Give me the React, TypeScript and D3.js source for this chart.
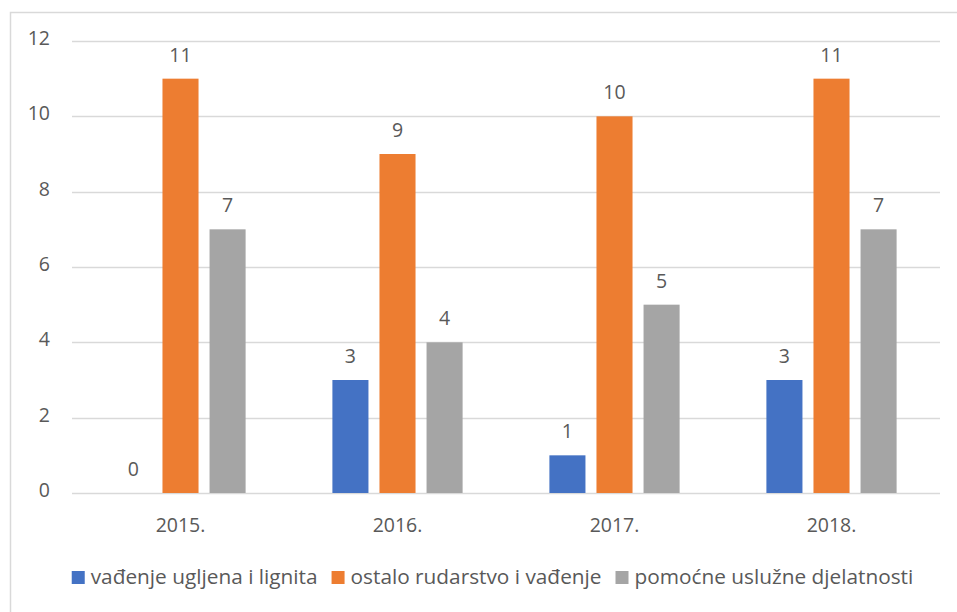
import React, { useEffect, useRef } from 'react';
import * as d3 from 'd3';

const years = ['2015.', '2016.', '2017.', '2018.'];
const seriesNames = ['vađenje ugljena i lignita', 'ostalo rudarstvo i vađenje', 'pomoćne uslužne djelatnosti'];
const coalValues = [0, 3, 1, 3];
const miningValues = [11, 9, 10, 11];
const supportValues = [7, 4, 5, 7];
const yTicks = [0, 2, 4, 6, 8, 10, 12];

const colors = ['#4472C4', '#ED7D31', '#A5A5A5'];
const textColor = '#595959';
const fontFamily = '"Open Sans", Lato, sans-serif';

const App: React.FC = () => {
  const svgRef = useRef<SVGSVGElement>(null);

  useEffect(() => {
    if (!svgRef.current) return;
    const width = 957;
    const height = 612;
    const margin = { top: 41, right: 17, bottom: 119, left: 72 };

    const svg = d3.select(svgRef.current);
    svg.selectAll('*').remove();

    const series = [coalValues, miningValues, supportValues];

    // chart area border (only top and left visible)
    svg.append('path')
      .attr('d', `M10.5,${height} V12.5 H${width}`)
      .attr('fill', 'none')
      .attr('stroke', '#D9D9D9')
      .attr('stroke-width', 1.5);

    const x0 = d3.scaleBand<string>()
      .domain(years)
      .range([margin.left, width - margin.right])
      .paddingInner(0.4)
      .paddingOuter(0.2);

    const x1 = d3.scaleBand<number>()
      .domain([0, 1, 2])
      .range([0, x0.bandwidth()])
      .paddingInner(0.234);

    const y = d3.scaleLinear()
      .domain([0, 12])
      .range([height - margin.bottom, margin.top]);

    // gridlines
    svg.append('g')
      .selectAll('line')
      .data(yTicks)
      .join('line')
      .attr('x1', margin.left)
      .attr('x2', width - margin.right)
      .attr('y1', d => Math.round(y(d)) + 0.5)
      .attr('y2', d => Math.round(y(d)) + 0.5)
      .attr('stroke', '#D9D9D9')
      .attr('stroke-width', 1.5);

    // y tick labels
    svg.append('g')
      .selectAll('text')
      .data(yTicks)
      .join('text')
      .attr('x', 50)
      .attr('y', d => y(d) + 4)
      .attr('text-anchor', 'end')
      .attr('font-size', '19.5px')
      .attr('font-family', fontFamily)
      .attr('fill', textColor)
      .text(d => d);

    // bars
    const groups = svg.append('g')
      .selectAll('g')
      .data(years)
      .join('g')
      .attr('transform', d => `translate(${x0(d)},0)`);

    groups.selectAll('rect')
      .data((d, i) => series.map((s, k) => ({ k, v: s[i] })))
      .join('rect')
      .attr('x', d => x1(d.k) || 0)
      .attr('y', d => y(d.v))
      .attr('width', x1.bandwidth())
      .attr('height', d => y(0) - y(d.v))
      .attr('fill', d => colors[d.k]);

    groups.selectAll('text')
      .data((d, i) => series.map((s, k) => ({ k, v: s[i] })))
      .join('text')
      .attr('x', d => (x1(d.k) || 0) + x1.bandwidth() / 2)
      .attr('y', d => y(d.v) - 17)
      .attr('text-anchor', 'middle')
      .attr('font-size', '19.5px')
      .attr('font-family', fontFamily)
      .attr('fill', textColor)
      .text(d => d.v);

    // x labels
    svg.append('g')
      .selectAll('text')
      .data(years)
      .join('text')
      .attr('x', d => (x0(d) || 0) + x0.bandwidth() / 2)
      .attr('y', height - margin.bottom + 39)
      .attr('text-anchor', 'middle')
      .attr('font-size', '19.5px')
      .attr('font-family', fontFamily)
      .attr('fill', textColor)
      .text(d => d);

    // legend
    const legend = svg.append('g');
    const items = legend.selectAll('g')
      .data(seriesNames)
      .join('g');
    items.append('rect')
      .attr('width', 13)
      .attr('height', 13)
      .attr('y', -13)
      .attr('fill', (d, i) => colors[i]);
    const labels = items.append('text')
      .attr('x', 19)
      .attr('font-size', '20.8px')
      .attr('font-family', fontFamily)
      .attr('fill', textColor)
      .text(d => d);

    let offset = 0;
    const gap = 14;
    labels.each(function () {
      const w = (this as SVGTextElement).getComputedTextLength();
      d3.select((this as SVGTextElement).parentNode as SVGGElement).attr('transform', `translate(${offset},0)`);
      offset += 19 + w + gap;
    });
    const total = offset - gap;
    legend.attr('transform', `translate(${492.5 - total / 2},584)`);
  }, []);

  return (
    <svg
      ref={svgRef}
      width={957}
      height={612}
      style={{ position: 'absolute', left: 0, top: 0, background: '#fff' }}
    />
  );
};

export default App;
